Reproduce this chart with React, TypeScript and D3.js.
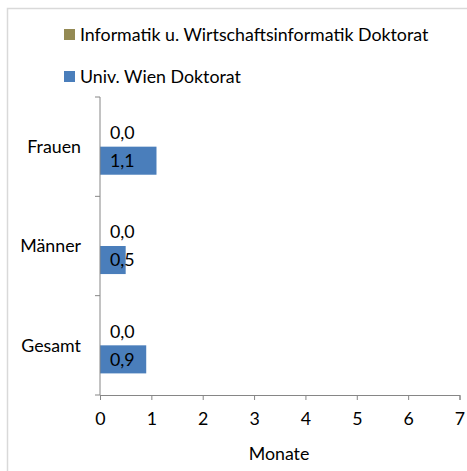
import React, { useEffect, useRef } from 'react';
import * as d3 from 'd3';

const categories = ['Frauen', 'Männer', 'Gesamt'];
const seriesNames = ['Informatik u. Wirtschaftsinformatik Doktorat', 'Univ. Wien Doktorat'];
const informatikValues = [0.0, 0.0, 0.0];
const univWienValues = [1.1, 0.5, 0.9];
const xTicks = [0, 1, 2, 3, 4, 5, 6, 7];
const seriesColors = ['#948A54', '#4A7EBB'];

const WIDTH = 467;
const HEIGHT = 471;
const FONT = 'Lato, "Open Sans", sans-serif';
const FS = 17.8;

export default function App() {
  const svgRef = useRef<SVGSVGElement>(null);

  useEffect(() => {
    if (!svgRef.current) return;
    const svg = d3.select(svgRef.current);
    svg.selectAll('*').remove();

    const margin = { top: 97, right: 8, bottom: 76, left: 100 };

    // chart area border (right and bottom edges are cut off)
    svg.append('rect')
      .attr('x', 7.5)
      .attr('y', 8.5)
      .attr('width', WIDTH + 10)
      .attr('height', HEIGHT + 10)
      .attr('fill', 'white')
      .attr('stroke', '#D9D9D9')
      .attr('stroke-width', 1.5);

    const x = d3.scaleLinear()
      .domain([0, 7])
      .range([margin.left, 459.5]);

    const y = d3.scaleBand()
      .domain(categories)
      .range([margin.top, HEIGHT - margin.bottom])
      .paddingInner(0)
      .paddingOuter(0);

    const inner = d3.scaleBand()
      .domain(seriesNames)
      .range([0, y.bandwidth()])
      .paddingInner(0)
      .paddingOuter(0.77);

    const rows = categories.map((c, i) => ({
      category: c,
      values: [informatikValues[i], univWienValues[i]],
    }));

    const g = svg.append('g');

    // Bars
    rows.forEach(row => {
      const y0 = y(row.category) || 0;
      row.values.forEach((v, si) => {
        const name = seriesNames[si];
        const by = y0 + (inner(name) || 0);
        if (v > 0) {
          g.append('rect')
            .attr('x', x(0))
            .attr('y', by)
            .attr('width', x(v) - x(0))
            .attr('height', inner.bandwidth())
            .attr('fill', seriesColors[si]);
        }
        g.append('text')
          .attr('x', x(0) + 10)
          .attr('y', by + inner.bandwidth() / 2)
          .attr('dy', '0.35em')
          .attr('font-family', FONT)
          .attr('font-size', FS)
          .attr('fill', '#000')
          .text(v.toFixed(1).replace('.', ','));
      });
    });

    // Axes
    const axisColor = '#868686';
    const yAxis = svg.append('g')
      .attr('transform', `translate(${x(0)},0)`);
    yAxis.append('line')
      .attr('x1', 0).attr('x2', 0)
      .attr('y1', margin.top).attr('y2', HEIGHT - margin.bottom)
      .attr('stroke', axisColor);
    const yBounds = categories.map(c => y(c) || 0).concat([HEIGHT - margin.bottom]);
    yAxis.selectAll('line.tick')
      .data(yBounds)
      .join('line')
      .attr('class', 'tick')
      .attr('x1', -5).attr('x2', 0)
      .attr('y1', d => d).attr('y2', d => d)
      .attr('stroke', axisColor);
    yAxis.selectAll('text')
      .data(categories)
      .join('text')
      .attr('x', -19)
      .attr('y', d => (y(d) || 0) + y.bandwidth() / 2)
      .attr('dy', '0.35em')
      .attr('text-anchor', 'end')
      .attr('font-family', FONT)
      .attr('font-size', FS)
      .attr('fill', '#000')
      .text(d => d);

    const xAxis = svg.append('g')
      .attr('transform', `translate(0,${HEIGHT - margin.bottom})`)
      .call(d3.axisBottom(x).tickValues(xTicks).tickSize(5).tickPadding(12).tickFormat(d => `${d}`));
    xAxis.select('.domain').attr('stroke', axisColor);
    xAxis.selectAll('.tick line').attr('stroke', axisColor);
    xAxis.selectAll('.tick text')
      .attr('font-family', FONT)
      .attr('font-size', FS)
      .attr('fill', '#000');

    svg.append('text')
      .attr('x', 279)
      .attr('y', 454)
      .attr('dy', '0.35em')
      .attr('text-anchor', 'middle')
      .attr('font-family', FONT)
      .attr('font-size', FS)
      .attr('fill', '#000')
      .text('Monate');

    // Legend
    const legendY = [34.5, 76.5];
    const legend = svg.append('g');
    seriesNames.forEach((name, i) => {
      legend.append('rect')
        .attr('x', 64)
        .attr('y', legendY[i] - 5.5)
        .attr('width', 11)
        .attr('height', 11)
        .attr('fill', seriesColors[i]);
      legend.append('text')
        .attr('x', 80)
        .attr('y', legendY[i])
        .attr('dy', '0.35em')
        .attr('font-family', FONT)
        .attr('font-size', FS)
        .attr('fill', '#000')
        .text(name);
    });
  }, []);

  return (
    <svg
      ref={svgRef}
      width={WIDTH}
      height={HEIGHT}
      style={{ position: 'absolute', left: 0, top: 0, display: 'block' }}
    />
  );
}
